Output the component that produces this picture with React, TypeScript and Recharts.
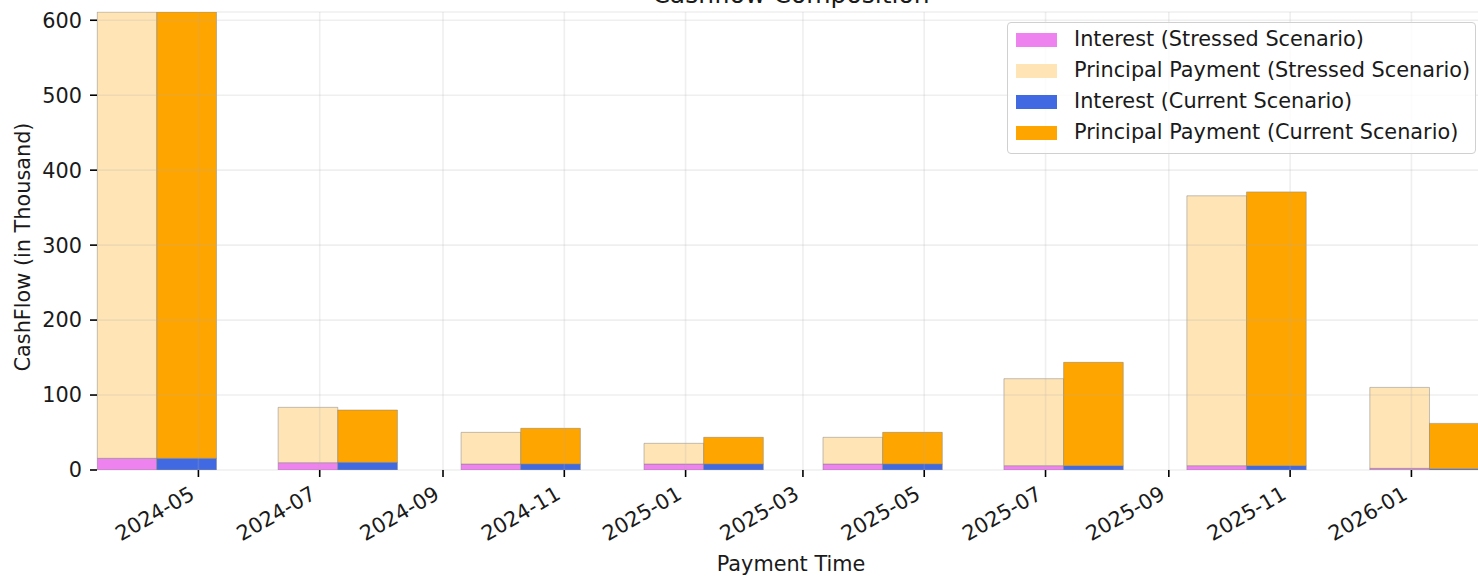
import { BarChart, Bar, XAxis, YAxis, CartesianGrid } from 'recharts'

// payment dates of each pair of bars
const PAYMENT_DATES = [
  '2024-04-10',
  '2024-07-10',
  '2024-10-10',
  '2025-01-10',
  '2025-04-10',
  '2025-07-10',
  '2025-10-10',
  '2026-01-10',
]

// cashflow in thousand (the first pair runs past the top of the axis)
const STRESSED_INTEREST = [15.6, 9.8, 8, 8, 8, 5.8, 5.8, 2.2]
const STRESSED_PRINCIPAL = [636, 73.8, 42.2, 27.6, 35.6, 116, 360, 108]
const CURRENT_INTEREST = [15.6, 10.2, 8, 8, 8, 5.8, 5.8, 1.8]
const CURRENT_PRINCIPAL = [632, 69.8, 47.6, 35.6, 42.2, 137.8, 365.2, 60.4]

const X_TICK_LABELS = [
  '2024-05',
  '2024-07',
  '2024-09',
  '2024-11',
  '2025-01',
  '2025-03',
  '2025-05',
  '2025-07',
  '2025-09',
  '2025-11',
  '2026-01',
]
const Y_TICKS = [0, 100, 200, 300, 400, 500, 600]
const X_LIMITS = ['2024-03-11', '2026-02-07']
const Y_LIMITS = [0, 611]
const BAR_DAYS = 30

const SERIES = [
  { key: 'stressedInterest', name: 'Interest (Stressed Scenario)', stack: 'stressed', color: '#EE82EE' },
  { key: 'stressedPrincipal', name: 'Principal Payment (Stressed Scenario)', stack: 'stressed', color: '#FFE4B5' },
  { key: 'currentInterest', name: 'Interest (Current Scenario)', stack: 'current', color: '#4169E1' },
  { key: 'currentPrincipal', name: 'Principal Payment (Current Scenario)', stack: 'current', color: '#FFA500' },
]

const FONT = '"DejaVu Sans", Verdana, sans-serif'
const FS = 20.8
const TEXT = '#1a1a1a'
const DAY = 86400000

const WIDTH = 1485
const HEIGHT = 578
const Y_AXIS_W = 97
const X_AXIS_H = 108
const TOP = 12

const data = PAYMENT_DATES.map((d, i) => ({
  t: Date.parse(d),
  stressedInterest: STRESSED_INTEREST[i],
  stressedPrincipal: STRESSED_PRINCIPAL[i],
  currentInterest: CURRENT_INTEREST[i],
  currentPrincipal: CURRENT_PRINCIPAL[i],
}))

const xDomain = X_LIMITS.map((d) => Date.parse(d))
const xTicks = X_TICK_LABELS.map((m) => Date.parse(m))
const plotWidth = WIDTH - Y_AXIS_W
const barSize = (BAR_DAYS * DAY * plotWidth) / (xDomain[1] - xDomain[0])

const fmtMonth = (v: number) => new Date(v).toISOString().slice(0, 7)

function DateTick({ x, y, payload }: any) {
  const ax = x - 2.4
  const ay = y + 21
  return (
    <text
      x={ax}
      y={ay}
      transform={`rotate(-30 ${ax} ${ay})`}
      textAnchor="end"
      fontSize={FS}
      fontFamily={FONT}
      fill={TEXT}
    >
      {fmtMonth(payload.value)}
    </text>
  )
}

function YTitle({ viewBox }: any) {
  const vb = viewBox ?? { x: 0, y: TOP, width: Y_AXIS_W, height: HEIGHT - TOP - X_AXIS_H }
  const x = vb.x + 30
  const y = vb.y + vb.height / 2 + 6
  return (
    <text
      x={x}
      y={y}
      transform={`rotate(-90 ${x} ${y})`}
      textAnchor="middle"
      fontSize={FS}
      fontFamily={FONT}
      fill={TEXT}
    >
      CashFlow (in Thousand)
    </text>
  )
}

function XTitle({ viewBox }: any) {
  const vb = viewBox ?? { x: Y_AXIS_W, y: HEIGHT - X_AXIS_H, width: plotWidth, height: X_AXIS_H }
  return (
    <text
      x={vb.x + vb.width / 2}
      y={vb.y + 100.6}
      textAnchor="middle"
      fontSize={FS}
      fontFamily={FONT}
      fill={TEXT}
    >
      Payment Time
    </text>
  )
}

export default function App() {
  return (
    <div
      style={{
        position: 'absolute',
        left: 0,
        top: 0,
        width: 1478,
        height: 578,
        overflow: 'hidden',
        background: '#fff',
        fontFamily: FONT,
      }}
    >
      <BarChart
        width={WIDTH}
        height={HEIGHT}
        data={data}
        margin={{ top: TOP, right: 0, bottom: 0, left: 0 }}
        barGap={0}
        barSize={barSize}
      >
        <XAxis
          type="number"
          dataKey="t"
          domain={xDomain}
          allowDataOverflow
          ticks={xTicks}
          interval={0}
          height={X_AXIS_H}
          tickSize={7}
          tickMargin={0}
          axisLine={false}
          tickLine={{ stroke: '#000', strokeWidth: 1.6 }}
          tick={<DateTick />}
          label={{ content: (p: any) => <XTitle {...p} /> }}
        />
        <YAxis
          type="number"
          domain={Y_LIMITS}
          allowDataOverflow
          ticks={Y_TICKS}
          interval={0}
          width={Y_AXIS_W}
          tickSize={7}
          tickMargin={8}
          axisLine={false}
          tickLine={{ stroke: '#000', strokeWidth: 1.6 }}
          tick={{ fill: TEXT, fontSize: FS, fontFamily: FONT }}
          label={{ content: (p: any) => <YTitle {...p} /> }}
        />
        {SERIES.map((s) => (
          <Bar
            key={s.key}
            dataKey={s.key}
            name={s.name}
            stackId={s.stack}
            fill={s.color}
            stroke="#808080"
            strokeOpacity={0.6}
            strokeWidth={0.8}
            isAnimationActive={false}
          />
        ))}
        <CartesianGrid
          stroke="#b0b0b0"
          strokeOpacity={0.2}
          strokeWidth={1.6}
          horizontal
          vertical
          {...({ zIndex: 400 } as any)}
        />
      </BarChart>

      {/* title, mostly above the top edge of the picture */}
      <svg
        width={WIDTH}
        height={HEIGHT}
        style={{ position: 'absolute', left: 0, top: 0, pointerEvents: 'none' }}
      >
        <text x={Y_AXIS_W + plotWidth / 2} y={3} textAnchor="middle" fontSize={25} fontFamily={FONT} fill={TEXT}>
          Cashflow Composition
        </text>
      </svg>

      {/* legend */}
      <div
        style={{
          position: 'absolute',
          left: 1007,
          top: 22,
          width: 469,
          height: 132,
          boxSizing: 'border-box',
          border: '1px solid #d0d0d0',
          borderRadius: 4,
          background: 'rgba(255,255,255,0.8)',
          paddingTop: 1.2,
        }}
      >
        {SERIES.map((s) => (
          <div
            key={s.key}
            style={{
              display: 'flex',
              alignItems: 'center',
              height: 31,
              fontSize: FS,
              lineHeight: '31px',
              color: TEXT,
              whiteSpace: 'nowrap',
            }}
          >
            <span
              style={{
                display: 'inline-block',
                width: 41,
                height: 14,
                marginLeft: 8,
                marginRight: 17,
                background: s.color,
              }}
            />
            <span>{s.name}</span>
          </div>
        ))}
      </div>
    </div>
  )
}
